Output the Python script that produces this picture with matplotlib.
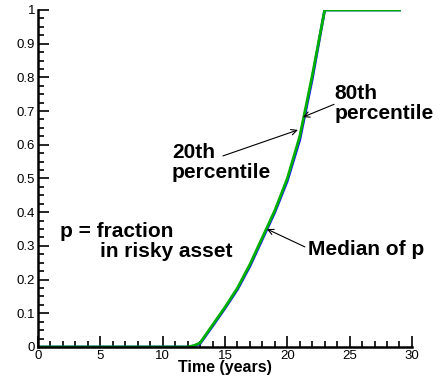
import numpy as np
import matplotlib.pyplot as plt
from matplotlib.ticker import MultipleLocator

# time (years) and percentiles of p
t = [0, 12, 12.5, 13, 14, 15, 16, 17, 18, 19, 20, 21, 22, 23, 29]
p20 = [0, 0, 0.003, 0.01, 0.062, 0.115, 0.171, 0.24, 0.32, 0.4, 0.493, 0.615, 0.795, 1.0, 1.0]
p80 = [0, 0, 0.004, 0.012, 0.065, 0.118, 0.175, 0.245, 0.325, 0.405, 0.5, 0.625, 0.805, 1.0, 1.0]

plt.rcParams['font.family'] = ['Liberation Sans', 'DejaVu Sans']

fig = plt.figure(figsize=(4.42, 3.83), dpi=100)
ax = fig.add_axes([0.086, 0.094, 0.846, 0.880])

ax.plot(t, p20, color='#1010ff', lw=2.0)
ax.plot(t, p80, color='#00b000', lw=2.0)

ax.set_xlim(0, 30)
ax.set_ylim(0, 1)
ax.xaxis.set_major_locator(MultipleLocator(5))
ax.xaxis.set_minor_locator(MultipleLocator(1))
ax.yaxis.set_major_locator(MultipleLocator(0.1))
ax.yaxis.set_minor_locator(MultipleLocator(0.025))
ax.xaxis.set_major_formatter(plt.FuncFormatter(lambda v, _: '%g' % v))
ax.yaxis.set_major_formatter(plt.FuncFormatter(lambda v, _: '%g' % round(v, 1)))
ax.tick_params(which='both', direction='in', width=1.2, labelsize=9.5, pad=2)
ax.tick_params(which='major', length=8)
ax.tick_params(which='minor', length=4)
for s in ['top', 'right']:
    ax.spines[s].set_visible(False)
for s in ['left', 'bottom']:
    ax.spines[s].set_linewidth(1.8)

ax.set_xlabel('Time (years)', fontsize=11.5, fontweight='bold', labelpad=-1)

lab = dict(fontsize=15, fontweight='bold', ha='left', linespacing=1.05)
ax.text(23.8, 0.78, '80th\npercentile', va='top', **lab)
ax.text(10.75, 0.605, '20th\npercentile', va='top', **lab)
ax.text(21.65, 0.288, 'Median of p', va='center', **lab)
ax.text(1.76, 0.372, 'p = fraction', va='top', **lab)
ax.text(4.97, 0.312, 'in risky asset', va='top', **lab)

arr = dict(arrowstyle='->', color='black', lw=0.8, shrinkA=0, shrinkB=0)
ax.annotate('', xy=(21.25, 0.682), xytext=(23.75, 0.72), arrowprops=arr)
ax.annotate('', xy=(20.85, 0.644), xytext=(14.84, 0.567), arrowprops=arr)
ax.annotate('', xy=(18.36, 0.35), xytext=(21.41, 0.297), arrowprops=arr)

fig.savefig('out.png', dpi=100)
